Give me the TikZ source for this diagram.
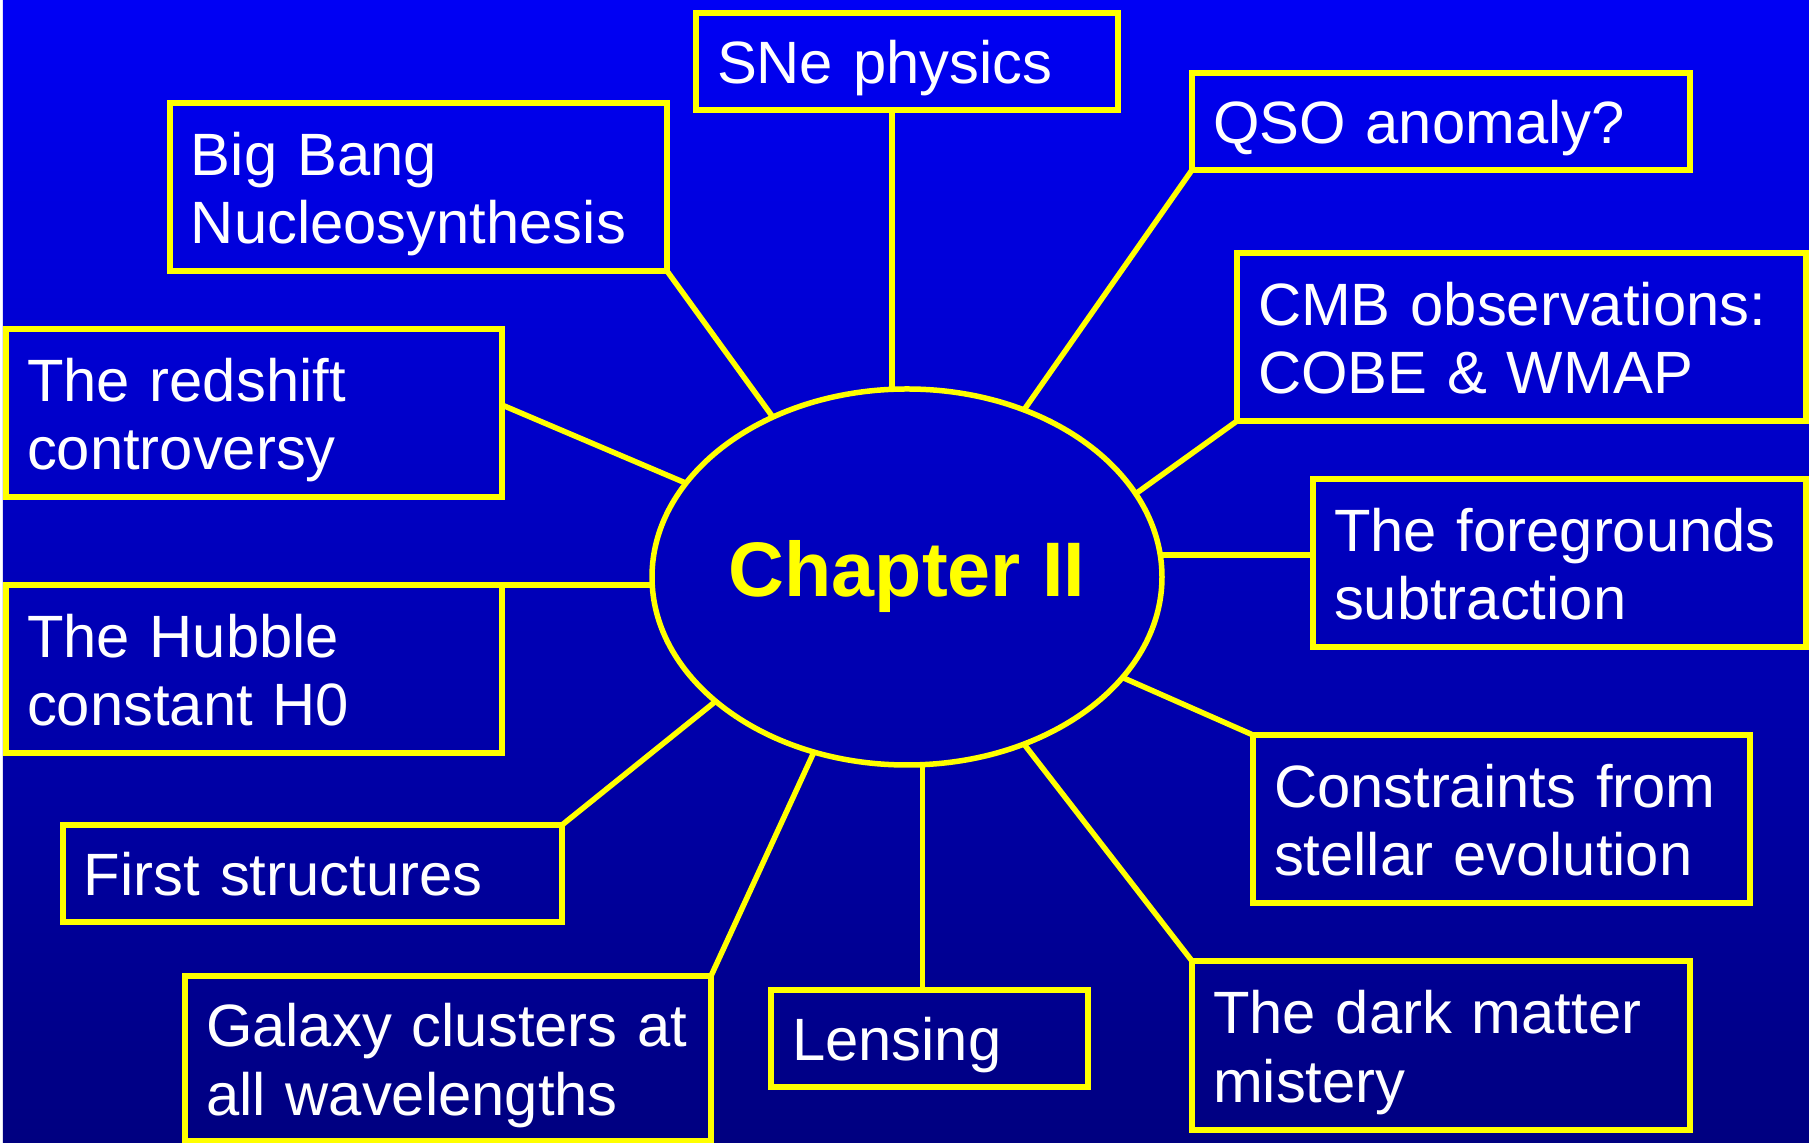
\documentclass[tikz,border=0pt]{standalone}
\usepackage{amsmath}
\usepackage{xcolor}
\usepackage{fontspec}
\setmainfont{Liberation Sans}
\usepackage{tikz}
\usetikzlibrary{shapes.geometric}

\definecolor{slidetop}{RGB}{0,0,245}
\definecolor{slidebot}{RGB}{0,0,128}
\definecolor{slideyel}{RGB}{255,255,0}

\newcommand{\topstrut}{\rule{0pt}{0.70cm}}
\newcommand{\botstrut}{\rule[-0.25cm]{0pt}{0.25cm}}

\begin{document}
\begin{tikzpicture}[
    topic/.style={draw=slideyel, line width=0.055cm, outer sep=0pt,
      text=white, align=left, inner xsep=0.21cm, inner ysep=0pt,
      font=\fontsize{17}{19.6}\selectfont,
      execute at begin node=\topstrut, execute at end node=\botstrut},
    chapter/.style={ellipse, draw=slideyel, line width=0.055cm,
      minimum width=5.10cm, minimum height=3.76cm, inner sep=0pt, outer sep=0pt,
      text=slideyel, font=\fontsize{22}{26}\selectfont\bfseries},
    link/.style={draw=slideyel, line width=0.055cm}]
    \useasboundingbox (0,0) rectangle (18.09,11.43);
    % background
    \shade [top color=slidetop, bottom color=slidebot] (0.03,0) rectangle (18.09,11.43);

    % centre
    \node [chapter] (chap) at (9.07,5.66) {Chapter II};

    % top row
    \node [topic, text width=3.80cm, minimum height=0.97cm] (sne) at (9.07,10.815) {SNe physics};
    \node [topic, text width=4.55cm, minimum height=1.68cm] (bbn) at (4.185,9.56) {Big Bang\\Nucleosynthesis};
    \node [topic, text width=4.56cm, minimum height=0.97cm] (qso) at (14.41,10.215) {QSO anomaly?};
    % left
    \node [topic, text width=4.54cm, minimum height=1.68cm] (red) at (2.54,7.30) {The redshift\\controversy};
    \node [topic, text width=4.54cm, minimum height=1.68cm] (hub) at (2.54,4.74) {The Hubble\\constant H0};
    \node [topic, text width=4.57cm, minimum height=0.97cm] (first) at (3.125,2.695) {First structures};
    % right
    \node [topic, text width=5.27cm, minimum height=1.68cm] (cmb) at (15.215,8.06) {CMB observations:\\COBE \& WMAP};
    \node [topic, text width=4.51cm, minimum height=1.68cm] (fg) at (15.595,5.80) {The foregrounds\\subtraction};
    \node [topic, text width=4.55cm, minimum height=1.68cm] (cons) at (15.015,3.24) {Constraints from\\stellar evolution};
    % bottom row
    \node [topic, text width=4.84cm, minimum height=1.65cm] (gal) at (4.48,0.845) {Galaxy clusters at\\all wavelengths};
    \node [topic, text width=2.75cm, minimum height=0.97cm] (lens) at (9.295,1.045) {Lensing};
    \node [topic, text width=4.56cm, minimum height=1.69cm] (dark) at (14.41,0.975) {The dark matter\\mistery};

    % spokes
    \draw [link] ([xshift=-0.15cm]sne.south) -- ([xshift=-0.15cm]chap.north);
    \draw [link] (bbn.south east) -- (chap.130);
    \draw [link] (qso.south west) -- (chap.55);
    \draw [link] (cmb.south west) -- (chap.20);
    \draw [link] ([yshift=0.08cm]red.east) -- (chap.157);
    \draw [link] ([yshift=0.08cm]fg.west) -- ([yshift=0.08cm]fg.west -| chap.east);
    \draw [link] (hub.north east) -- (hub.north east -| chap.west);
    \draw [link] (cons.north west) -- (chap.-25);
    \draw [link] (first.north east) -- (chap.213);
    \draw [link] (gal.north east) -- (chap.242);
    \draw [link] ([xshift=-0.07cm]lens.north) -- ([xshift=-0.07cm]lens.north |- chap.south);
    \draw [link] (dark.north west) -- (chap.-55);
\end{tikzpicture}
\end{document}
